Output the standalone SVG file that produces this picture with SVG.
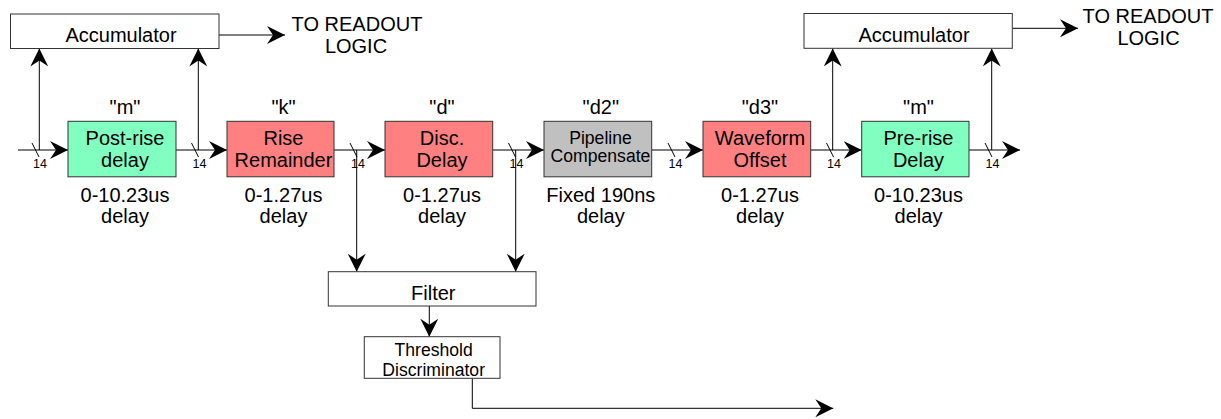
<svg xmlns="http://www.w3.org/2000/svg" width="1221" height="419" viewBox="0 0 1221 419">
<defs>
<style>
.t{font-family:"Liberation Sans",Arial,sans-serif;fill:#000;text-anchor:middle}
.f20{font-size:20px}
.f18{font-size:17.6px}
.f12{font-size:12.5px}
.box{stroke:#333;stroke-width:1}
.wbox{fill:#fff;stroke:#333;stroke-width:1}
.green{fill:#80ffc0}
.red{fill:#ff8080}
.gray{fill:#c0c0c0}
.ln{fill:none;stroke:#000;stroke-width:1}
.ar{marker-end:url(#ah)}
</style>
<marker id="ah" viewBox="0 0 18 18" refX="18" refY="9" markerWidth="18" markerHeight="18" markerUnits="userSpaceOnUse" orient="auto">
<path d="M0,0 L18,9 L0,18 L6,9 z" fill="#000"/>
</marker>
</defs>
<rect width="1221" height="419" fill="#fff"/>
<g id="connectors">
<path class="ln ar" d="M18,150 H68"/>
<path class="ln ar" d="M176,150 H227"/>
<path class="ln ar" d="M334,150 H385"/>
<path class="ln ar" d="M492.7,150 H544"/>
<path class="ln ar" d="M651.7,150 H703"/>
<path class="ln ar" d="M810.7,150 H861.7"/>
<path class="ln ar" d="M969,150 H1020"/>
<path class="ln ar" d="M39.3,150 V48.5"/>
<path class="ln ar" d="M198.3,150 V48.5"/>
<path class="ln ar" d="M832.7,150 V48.5"/>
<path class="ln ar" d="M991.7,150 V48.5"/>
<path class="ln ar" d="M219,35 H285"/>
<path class="ln ar" d="M1012.3,28.3 H1078"/>
<path class="ln ar" d="M356.7,150 V271.7"/>
<path class="ln ar" d="M515.7,150 V271.7"/>
<path class="ln ar" d="M429.3,306 V336.7"/>
<path class="ln ar" d="M472.3,378.3 V408.3 H833.3"/>
<path class="ln" d="M32,143 L39,157 M191.5,143 L198.5,157 M350,143 L357,157 M508.5,143 L515.5,157 M668,143 L675,157 M826.5,143 L833.5,157 M985,143 L992,157"/>
<text class="t f12" x="40" y="168">14</text>
<text class="t f12" x="199.5" y="168">14</text>
<text class="t f12" x="358" y="168">14</text>
<text class="t f12" x="516.5" y="168">14</text>
<text class="t f12" x="675.5" y="168">14</text>
<text class="t f12" x="834" y="168">14</text>
<text class="t f12" x="992.5" y="168">14</text>
</g>
<g id="accumulator-left">
<rect class="wbox" x="10.5" y="14" width="208.5" height="34.5"/>
<text class="t f20" x="121" y="41.5">Accumulator</text>
</g>
<g id="readout-left">
<text class="t f20" x="357" y="30.7">TO READOUT</text>
<text class="t f20" x="356" y="53.3">LOGIC</text>
</g>
<g id="accumulator-right">
<rect class="wbox" x="804" y="13.5" width="208.3" height="34.8"/>
<text class="t f20" x="914" y="41.5">Accumulator</text>
</g>
<g id="readout-right">
<text class="t f20" x="1148" y="23.3">TO READOUT</text>
<text class="t f20" x="1148.5" y="45">LOGIC</text>
</g>
<g id="post-rise">
<text class="t f20" x="125" y="113.5">"m"</text>
<rect class="box green" x="68" y="121.3" width="108" height="55.5"/>
<text class="t f20" x="125" y="145">Post-rise</text>
<text class="t f20" x="125" y="166.5">delay</text>
<text class="t f20" x="125" y="201.5">0-10.23us</text>
<text class="t f20" x="125" y="223">delay</text>
</g>
<g id="rise-remainder">
<text class="t f20" x="283.5" y="113.5">"k"</text>
<rect class="box red" x="227" y="121.3" width="107" height="55.5"/>
<text class="t f20" x="283.5" y="145">Rise</text>
<text class="t f20" x="283.5" y="166.5">Remainder</text>
<text class="t f20" x="283.5" y="201.5">0-1.27us</text>
<text class="t f20" x="283.5" y="223">delay</text>
</g>
<g id="disc-delay">
<text class="t f20" x="442" y="113.5">"d"</text>
<rect class="box red" x="385" y="121.3" width="107.7" height="55.5"/>
<text class="t f20" x="442" y="145">Disc.</text>
<text class="t f20" x="442" y="166.5">Delay</text>
<text class="t f20" x="442" y="201.5">0-1.27us</text>
<text class="t f20" x="442" y="223">delay</text>
</g>
<g id="pipeline">
<text class="t f20" x="600.8" y="113.5">"d2"</text>
<rect class="box gray" x="544" y="121.3" width="107.7" height="55.5"/>
<text class="t f18" x="600.5" y="143.5">Pipeline</text>
<text class="t f18" x="600.5" y="161.5">Compensate</text>
<text class="t f20" x="600.8" y="201.5">Fixed 190ns</text>
<text class="t f20" x="600.8" y="223">delay</text>
</g>
<g id="waveform-offset">
<text class="t f20" x="760" y="113.5">"d3"</text>
<rect class="box red" x="703" y="121.3" width="107.7" height="55.5"/>
<text class="t f20" x="760" y="145">Waveform</text>
<text class="t f20" x="760" y="166.5">Offset</text>
<text class="t f20" x="760" y="201.5">0-1.27us</text>
<text class="t f20" x="760" y="223">delay</text>
</g>
<g id="pre-rise">
<text class="t f20" x="918.5" y="113.5">"m"</text>
<rect class="box green" x="861.7" y="121.3" width="107.3" height="55.5"/>
<text class="t f20" x="918.5" y="145">Pre-rise</text>
<text class="t f20" x="918.5" y="166.5">Delay</text>
<text class="t f20" x="918.5" y="201.5">0-10.23us</text>
<text class="t f20" x="918.5" y="223">delay</text>
</g>
<g id="filter">
<rect class="wbox" x="328.3" y="271.7" width="207.7" height="34.3"/>
<text class="t f20" x="433.3" y="300">Filter</text>
</g>
<g id="threshold">
<rect class="wbox" x="364.3" y="336.7" width="135.7" height="41.6"/>
<text class="t f18" x="433.7" y="356">Threshold</text>
<text class="t f18" x="433.7" y="376">Discriminator</text>
</g>
</svg>
